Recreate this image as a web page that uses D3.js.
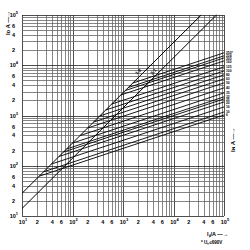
<!DOCTYPE html>
<html>
<head>
<meta charset="utf-8">
<script src="https://cdn.jsdelivr.net/npm/d3@7"></script>
<style>
  body { margin: 0; background: #fff; }
  text { font-family: "Liberation Sans", Arial, sans-serif; font-weight: bold; fill: #000; }
</style>
</head>
<body>
<svg id="chart" width="250" height="250"></svg>
<script>
// fuse ratings, top line first
const ratings = ["250*", "224", "200", "160", "125", "100", "80", "63", "50", "40", "35", "32", "25", "20", "16", "10", "6"];
// prospective current where each line leaves the 2√2·Ip diagonal (A)
const startIp = [1567, 1274, 1109, 905, 598, 454, 345, 262, 199, 141, 100, 76, 66, 54, 38, 27, 22];
const startId = [4430, 3600, 3140, 2560, 1690, 1285, 976, 741, 563, 399, 283, 215, 187, 153, 108, 76, 62];
// cut-off current at Ip = 100 kA (A)
const endIp = 100000;
const endId = [17660, 15400, 14000, 12200, 9300, 7700, 6440, 5360, 4460, 3550, 2820, 2350, 2140, 1860, 1480, 1175, 1025];

// the two peak current diagonals
const diagLabels = ["1.8", "3.1"];
const diagFactor = [2.83, 1.41];
const diagLabelAt = [2300, 4600];

const decades = [10, 100, 1000, 10000, 100000];
const minorLabels = [2, 4, 6];

const margin = { top: 15, right: 26, bottom: 34, left: 22 };
const width = 250 - margin.left - margin.right;
const height = 250 - margin.top - margin.bottom;

const x = d3.scaleLog().domain([10, 100000]).range([0, width]);
const y = d3.scaleLog().domain([10, 100000]).range([height, 0]);

const svg = d3.select('#chart');
const g = svg.append('g')
  .attr('transform', `translate(${margin.left},${margin.top})`);

// log grid: 1..9 in every decade
const gridVals = [];
decades.slice(0, 4).forEach(d => {
  for (let k = 1; k < 10; k++) gridVals.push(k * d);
});
gridVals.push(100000);

g.selectAll('.vgrid')
  .data(gridVals)
  .enter().append('line')
  .attr('x1', d => Math.round(x(d)) + 0.5)
  .attr('x2', d => Math.round(x(d)) + 0.5)
  .attr('y1', 0).attr('y2', height)
  .attr('stroke', d => decades.includes(d) ? '#222' : '#666')
  .attr('stroke-width', 0.8);

g.selectAll('.hgrid')
  .data(gridVals)
  .enter().append('line')
  .attr('y1', d => Math.round(y(d)) + 0.5)
  .attr('y2', d => Math.round(y(d)) + 0.5)
  .attr('x1', 0).attr('x2', width)
  .attr('stroke', d => decades.includes(d) ? '#222' : '#666')
  .attr('stroke-width', 0.8);

// tick labels
const tickVals = [];
decades.forEach((d, i) => {
  tickVals.push({ v: d, e: i + 1 });
  if (d < 100000) minorLabels.forEach(m => tickVals.push({ v: m * d }));
});

function tickText(sel) {
  sel.each(function (d) {
    const t = d3.select(this);
    if (d.e) {
      t.append('tspan').text('10');
      t.append('tspan').attr('dy', -3).attr('font-size', 4).text(d.e);
    } else {
      t.text(d.v / Math.pow(10, Math.floor(Math.log10(d.v) + 1e-9)));
    }
  });
}

g.selectAll('.xt')
  .data(tickVals)
  .enter().append('text')
  .attr('x', d => x(d.v) + (d.e ? 1 : 0))
  .attr('y', height + 8)
  .attr('text-anchor', 'middle')
  .attr('font-size', 5.5)
  .call(tickText);

g.selectAll('.yt')
  .data(tickVals)
  .enter().append('text')
  .attr('x', d => d.e ? -4 : -7)
  .attr('y', d => y(d.v) + 2)
  .attr('text-anchor', 'end')
  .attr('font-size', 5.5)
  .call(tickText);

// diagonals
const line = d3.line().x(d => x(d[0])).y(d => y(d[1]));
diagFactor.forEach((f, i) => {
  const pts = [[10, 10 * f], [100000 / f, 100000]];
  g.append('path')
    .attr('d', line(pts))
    .attr('fill', 'none')
    .attr('stroke', '#000')
    .attr('stroke-width', 1);
  const lx = diagLabelAt[i];
  g.append('text')
    .attr('transform', `translate(${x(lx) - 2},${y(lx * f) - 2}) rotate(-45)`)
    .attr('font-size', 4.5)
    .attr('text-anchor', 'middle')
    .text(diagLabels[i]);
});

// fuse cut-off lines
ratings.forEach((r, i) => {
  g.append('path')
    .attr('d', line([[startIp[i], startId[i]], [endIp, endId[i]]]))
    .attr('fill', 'none')
    .attr('stroke', '#000')
    .attr('stroke-width', 0.9);
});

// right-hand labels, pushed apart so they do not sit on each other
let prev = -Infinity;
const labelY = endId.map(v => {
  const p = Math.max(y(v) + 1.3, prev + 3.1);
  prev = p;
  return p;
});
g.selectAll('.rl')
  .data(ratings)
  .enter().append('text')
  .attr('x', width + 2)
  .attr('y', (d, i) => labelY[i])
  .attr('font-size', 3.3)
  .text(d => d);

// axis titles
svg.append('text')
  .attr('transform', 'translate(10,35) rotate(-90)')
  .attr('font-size', 6)
  .text('I\u1D05 A \u2014\u2192');

svg.append('text')
  .attr('transform', 'translate(235,152) rotate(-90)')
  .attr('font-size', 6)
  .text('I\u0274 A \u2014\u2192');

svg.append('text')
  .attr('x', 207).attr('y', 236)
  .attr('font-size', 5.5)
  .text('I\u209A/A \u2014\u2192');

svg.append('text')
  .attr('x', 201).attr('y', 244)
  .attr('font-size', 4.5)
  .text('* U\u2099\u2264690V');
</script>
</body>
</html>
